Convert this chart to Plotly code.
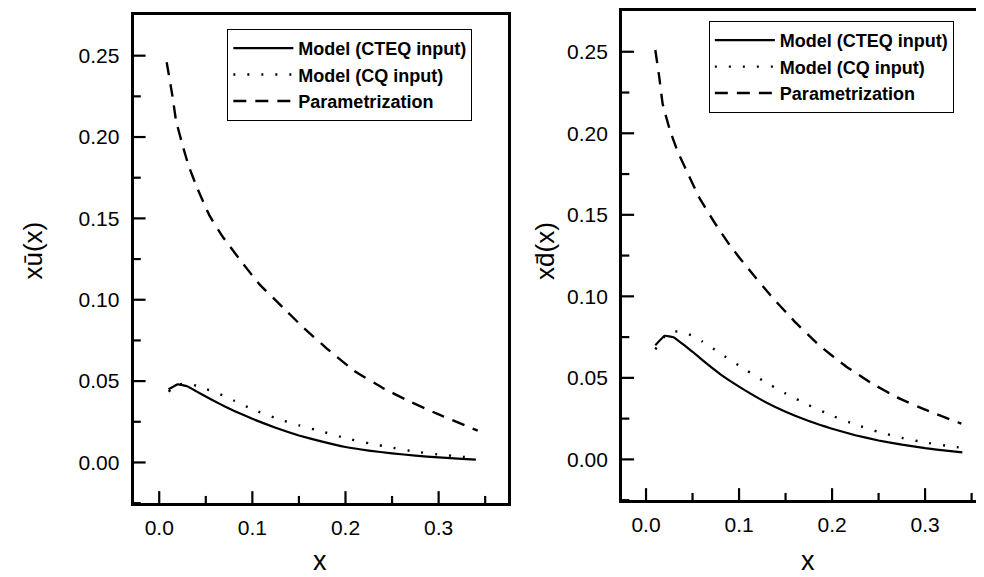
import plotly.graph_objects as go

# ---------------- data ----------------
x_model = [0.01, 0.02, 0.03, 0.04, 0.05, 0.06, 0.07, 0.08, 0.10, 0.125, 0.15,
           0.175, 0.20, 0.225, 0.25, 0.275, 0.30, 0.325, 0.34]

ubar_cteq = [0.045, 0.048, 0.0468, 0.0437, 0.0405, 0.0375, 0.0345, 0.0318, 0.0268,
             0.0213, 0.0166, 0.0128, 0.0095, 0.0073, 0.0056, 0.0042, 0.0031, 0.0022, 0.0018]
ubar_cq = [0.0435, 0.0478, 0.0485, 0.0472, 0.0452, 0.043, 0.0408, 0.0381, 0.0327,
           0.0272, 0.0228, 0.019, 0.0149, 0.0118, 0.0091, 0.0066, 0.0049, 0.0035, 0.0028]
x_ubar_param = [0.008, 0.0143, 0.0179, 0.0243, 0.0315, 0.0411, 0.0537, 0.068, 0.0877,
                0.1074, 0.1324, 0.154, 0.18, 0.209, 0.24, 0.267, 0.30, 0.342]
ubar_param = [0.246, 0.2248, 0.2106, 0.1965, 0.1824, 0.1682, 0.152, 0.1389, 0.1238,
              0.1096, 0.0955, 0.0833, 0.0700, 0.0565, 0.0458, 0.038, 0.0295, 0.0195]

dbar_cteq = [0.070, 0.0758, 0.0748, 0.0705, 0.066, 0.0612, 0.0566, 0.0522, 0.0446,
             0.0362, 0.0292, 0.0235, 0.0188, 0.0148, 0.0116, 0.0090, 0.0069, 0.0052, 0.0043]
dbar_cq = [0.0675, 0.0755, 0.0785, 0.078, 0.0758, 0.0725, 0.0688, 0.065, 0.0575,
           0.0485, 0.0404, 0.0332, 0.0268, 0.0214, 0.0168, 0.0132, 0.0104, 0.0082, 0.0071]
x_dbar_param = [0.010, 0.0143, 0.0179, 0.0257, 0.034, 0.0447, 0.0571, 0.0732, 0.0911,
                0.1107, 0.134, 0.159, 0.186, 0.215, 0.243, 0.27, 0.30, 0.339]
dbar_param = [0.2511, 0.2341, 0.218, 0.2019, 0.1888, 0.1757, 0.1607, 0.1456, 0.1305,
              0.1164, 0.1005, 0.085, 0.070, 0.057, 0.0465, 0.038, 0.0305, 0.0219]

series_names = ["Model (CTEQ input)", "Model (CQ input)", "Parametrization"]
x_tick_vals = [0.0, 0.1, 0.2, 0.3]
x_tick_text = ["0.0", "0.1", "0.2", "0.3"]
x_minor_vals = [0.05, 0.15, 0.25, 0.35]
y_tick_vals = [0.00, 0.05, 0.10, 0.15, 0.20, 0.25]
y_tick_text = ["0.00", "0.05", "0.10", "0.15", "0.20", "0.25"]
y_minor_vals = [-0.025, 0.025, 0.075, 0.125, 0.175, 0.225]

# ---------------- figure ----------------
W, H = 984, 577
FONT = "Liberation Sans, Arial, sans-serif"
styles = [dict(dash="solid", width=2.2),
          dict(dash="2px,12px", width=2.4),
          dict(dash="13px,9px", width=2.4)]

# geometry (pixels)
L1, R1, T1, B1 = 126, 502, 6, 495
L2, R2, T2, B2 = 616, 984, 2, 492
X1_RANGE = [-0.0275, 0.375]
X2_RANGE = [-0.0257, 0.3687]
Y_RANGE = [-0.025, 0.275]
MAJOR_LEN, MINOR_LEN = 10, 6

fig = go.Figure()
panels = [
    ([(x_model, ubar_cteq), (x_model, ubar_cq), (x_ubar_param, ubar_param)],
     "x", "y", "legend", (L1, R1, T1, B1), X1_RANGE),
    ([(x_model, dbar_cteq), (x_model, dbar_cq), (x_dbar_param, dbar_param)],
     "x2", "y2", "legend2", (L2, R2, T2, B2), X2_RANGE),
]
for data, xa, ya, lg, box, xr in panels:
    for name, (xv, yv), st in zip(series_names, data, styles):
        fig.add_trace(go.Scatter(
            x=xv, y=yv, mode="lines", name=name,
            line=dict(color="black", width=st["width"], dash=st["dash"],
                      shape="spline", smoothing=0.3),
            xaxis=xa, yaxis=ya, legend=lg,
        ))
    # inward-pointing tick marks, placed through the axes' own scales
    l, r, t, b = box
    dx_per_px = (xr[1] - xr[0]) / (r - l)
    dy_per_px = (Y_RANGE[1] - Y_RANGE[0]) / (b - t)
    for vals, ln in ((y_tick_vals, MAJOR_LEN), (y_minor_vals, MINOR_LEN)):
        fig.add_trace(go.Scatter(
            x=[xr[0] + dx_per_px * ln / 2] * len(vals), y=vals, mode="markers",
            marker=dict(symbol="line-ew-open", size=ln, color="black",
                        line=dict(width=2.2, color="black")),
            xaxis=xa, yaxis=ya, showlegend=False, hoverinfo="skip", cliponaxis=False))
    for vals, ln in ((x_tick_vals, MAJOR_LEN), (x_minor_vals, MINOR_LEN)):
        vis = [v for v in vals if xr[0] < v < xr[1]]
        fig.add_trace(go.Scatter(
            x=vis, y=[Y_RANGE[0] + dy_per_px * ln / 2] * len(vis), mode="markers",
            marker=dict(symbol="line-ns-open", size=ln, color="black",
                        line=dict(width=2.2, color="black")),
            xaxis=xa, yaxis=ya, showlegend=False, hoverinfo="skip", cliponaxis=False))


def main_axis(domain, rng, anchor, tv, tt, standoff):
    return dict(domain=domain, range=rng, anchor=anchor, showgrid=False, zeroline=False,
                showline=True, linecolor="black", linewidth=3, mirror=True,
                tickmode="array", tickvals=tv, ticktext=tt, ticks="",
                tickfont=dict(family=FONT, size=21, color="black"),
                ticklabelstandoff=standoff)


legend_style = dict(font=dict(family=FONT, size=18, color="black", weight="bold"),
                    bordercolor="black", borderwidth=1, bgcolor="white",
                    xanchor="left", yanchor="top", itemwidth=60, tracegroupgap=0)

fig.update_layout(
    width=W, height=H,
    margin=dict(l=0, r=0, t=0, b=0),
    paper_bgcolor="white", plot_bgcolor="white",
    font=dict(family=FONT, color="black"),
    xaxis=main_axis([L1 / W, R1 / W], X1_RANGE, "y", x_tick_vals, x_tick_text, 4),
    yaxis=main_axis([1 - B1 / H, 1 - T1 / H], Y_RANGE, "x", y_tick_vals, y_tick_text, 7),
    xaxis2=main_axis([L2 / W, R2 / W], X2_RANGE, "y2", x_tick_vals, x_tick_text, 4),
    yaxis2=main_axis([1 - B2 / H, 1 - T2 / H], Y_RANGE, "x2", y_tick_vals, y_tick_text, 7),
    legend=dict(**legend_style, x=220 / W, y=1 - 20 / H),
    legend2=dict(**legend_style, x=703 / W, y=1 - 12 / H),
    showlegend=True,
    annotations=[
        dict(text="x\u016B(x)", x=25 / W, y=1 - 242 / H, xref="paper", yref="paper",
             xanchor="center", yanchor="middle",
             showarrow=False, textangle=-90, font=dict(family=FONT, size=26, color="black")),
        dict(text="xd\u0304(x)", x=538 / W, y=1 - 242 / H, xref="paper", yref="paper",
             xanchor="center", yanchor="middle",
             showarrow=False, textangle=-90, font=dict(family=FONT, size=26, color="black")),
        dict(text="x", x=313 / W, y=1 - 553 / H, xref="paper", yref="paper",
             xanchor="center", yanchor="middle",
             showarrow=False, font=dict(family=FONT, size=27, color="black")),
        dict(text="x", x=802 / W, y=1 - 553 / H, xref="paper", yref="paper",
             xanchor="center", yanchor="middle",
             showarrow=False, font=dict(family=FONT, size=27, color="black")),
    ],
)

fig.write_html("out.html")
